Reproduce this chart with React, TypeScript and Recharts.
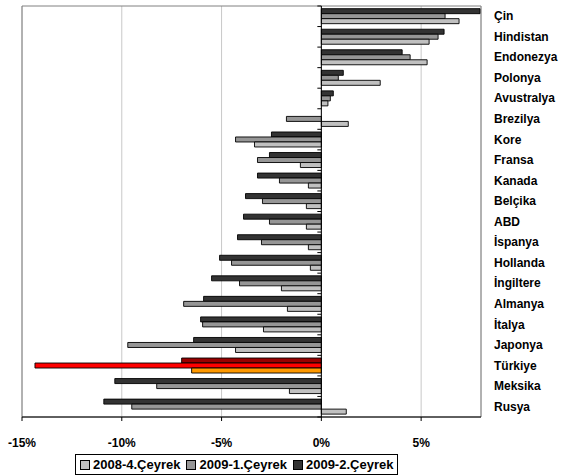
import React from 'react';
import { BarChart, Bar, XAxis, YAxis, CartesianGrid, ReferenceLine, ReferenceArea, Cell } from 'recharts';

const countries = ['Çin', 'Hindistan', 'Endonezya', 'Polonya', 'Avustralya', 'Brezilya', 'Kore', 'Fransa', 'Kanada', 'Belçika', 'ABD', 'İspanya', 'Hollanda', 'İngiltere', 'Almanya', 'İtalya', 'Japonya', 'Türkiye', 'Meksika', 'Rusya'];

const q2008_4 = [6.9, 5.4, 5.3, 2.95, 0.33, 1.35, -3.35, -1.05, -0.65, -0.75, -0.75, -0.65, -0.55, -2.0, -1.7, -2.9, -4.3, -6.5, -1.6, 1.25];
const q2009_1 = [6.2, 5.85, 4.45, 0.85, 0.45, -1.75, -4.3, -3.2, -2.1, -2.95, -2.6, -3.0, -4.5, -4.1, -6.9, -5.95, -9.7, -14.35, -8.25, -9.5];
const q2009_2 = [7.95, 6.15, 4.05, 1.1, 0.6, 0, -2.5, -2.6, -3.2, -3.8, -3.9, -4.2, -5.1, -5.5, -5.9, -6.05, -6.4, -7.0, -10.35, -10.9];

const xTicks = [-15, -10, -5, 0, 5];

const seriesNames = ['2008-4.Çeyrek', '2009-1.Çeyrek', '2009-2.Çeyrek'];
const seriesColors = ['#c0c0c0', '#969696', '#333333'];
const highlightColors = ['#ff9900', '#ff0000', '#990000'];
const highlight = 'Türkiye';

const data = countries.map((name, i) => ({
  name,
  q4: q2008_4[i],
  q1: q2009_1[i],
  q2: q2009_2[i],
}));

const font = 'Arial, "Liberation Sans", sans-serif';

const CountryTick = ({ x, y, payload }: any) => (
  <text x={x + 5} y={y} dy={4} fontFamily={font} fontSize={12} fontWeight="bold" fill="#000" textAnchor="start">
    {payload.value}
  </text>
);

// zero axis line with little category ticks on its left side
const ZeroAxis = (props: any) => {
  const { x1, y1, x2, y2 } = props;
  const top = Math.min(y1, y2);
  const bottom = Math.max(y1, y2);
  const step = (bottom - top) / countries.length;
  return (
    <g>
      <line x1={x1} y1={y1} x2={x2} y2={y2} stroke="#000" strokeWidth={1} />
      {Array.from({ length: countries.length + 1 }, (_, i) => (
        <line key={i} x1={x1 - 4} x2={x1} y1={top + i * step} y2={top + i * step} stroke="#000" strokeWidth={1} />
      ))}
    </g>
  );
};

const LegendBox = () => (
  <div
    style={{
      position: 'absolute',
      left: 75,
      top: 454,
      display: 'flex',
      alignItems: 'center',
      border: '1px solid #000',
      padding: '1px 4px',
      fontFamily: font,
      fontSize: 13,
      fontWeight: 'bold',
      background: '#fff',
      whiteSpace: 'nowrap',
      lineHeight: '17px',
    }}
  >
    {seriesNames.map((n, i) => (
      <span key={n} style={{ display: 'inline-flex', alignItems: 'center', marginRight: i < 2 ? 6 : 0 }}>
        <span
          style={{
            display: 'inline-block',
            width: 8,
            height: 8,
            border: '1px solid #000',
            background: seriesColors[i],
            marginRight: 3,
          }}
        />
        {n}
      </span>
    ))}
  </div>
);

const keys = ['q2', 'q1', 'q4'];
const colorIdx = [2, 1, 0];

export default function App() {
  return (
    <div style={{ width: 569, height: 476, position: 'relative' }}>
      <style>{'body{margin:0;}'}</style>
      <BarChart
        width={569}
        height={476}
        data={data}
        layout="vertical"
        margin={{ top: 6, right: 0, left: 22, bottom: 29 }}
        barGap={0}
        barCategoryGap="13%"
      >
        <CartesianGrid horizontal={false} stroke="#c8c8c8" />
        <ReferenceArea x1={-15} x2={8} fill="none" stroke="#808080" strokeWidth={1} ifOverflow="extendDomain" />
        <XAxis
          type="number"
          domain={[-15, 8]}
          ticks={xTicks}
          tickFormatter={(v) => `${v}%`}
          axisLine={{ stroke: '#000' }}
          tickLine={{ stroke: '#000' }}
          tickSize={4}
          tickMargin={17}
          height={30}
          tick={{ fill: '#000', fontSize: 12, fontWeight: 'bold', fontFamily: font }}
          allowDataOverflow
        />
        <YAxis
          type="category"
          dataKey="name"
          orientation="right"
          width={88}
          axisLine={false}
          tickLine={false}
          interval={0}
          tick={<CountryTick />}
        />
        {keys.map((k, j) => (
          <Bar key={k} dataKey={k} fill={seriesColors[colorIdx[j]]} stroke="#000" strokeWidth={0.9} isAnimationActive={false}>
            {data.map((d) => (
              <Cell key={d.name} fill={d.name === highlight ? highlightColors[colorIdx[j]] : seriesColors[colorIdx[j]]} />
            ))}
          </Bar>
        ))}
        <ReferenceLine x={0} shape={<ZeroAxis />} />
      </BarChart>
      <LegendBox />
    </div>
  );
}
